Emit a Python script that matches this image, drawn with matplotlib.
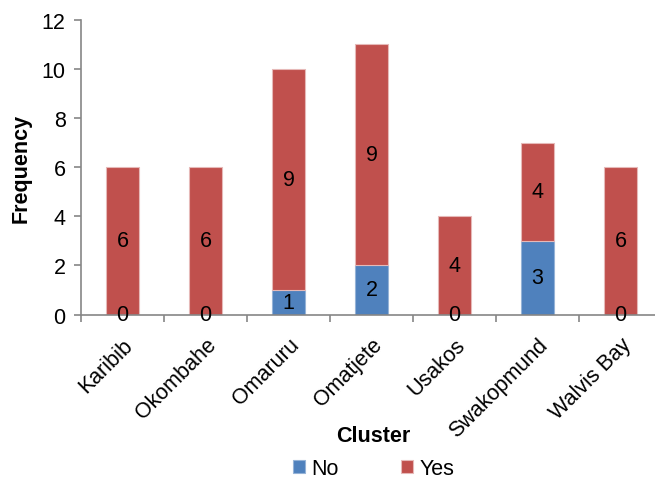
import matplotlib.pyplot as plt
import numpy as np

clusters = ["Karibib", "Okombahe", "Omaruru", "Omatjete", "Usakos", "Swakopmund", "Walvis Bay"]
no_counts = [0, 0, 1, 2, 0, 3, 0]
yes_counts = [6, 6, 9, 9, 4, 4, 6]

plt.rcParams['font.family'] = ['Liberation Sans', 'DejaVu Sans']
fs = 15.5

fig = plt.figure(figsize=(6.55, 4.85), dpi=100)
ax = fig.add_axes([81/655, 1 - 315.5/485, 581/655, 294.8/485])

x = np.arange(len(clusters))
no = np.array(no_counts)
yes = np.array(yes_counts)

b1 = ax.bar(x, no, width=0.4, color="#4F81BD", edgecolor="#95B3D7", linewidth=0.8, label="No")
b2 = ax.bar(x, yes, width=0.4, bottom=no, color="#C0504D", edgecolor="#E6B9B8", linewidth=0.8, label="Yes")

# value labels in the middle of each segment
for i in range(len(clusters)):
    ax.text(x[i], no[i] / 2, str(no[i]), ha="center", va="center", fontsize=fs)
    ax.text(x[i], no[i] + yes[i] / 2, str(yes[i]), ha="center", va="center", fontsize=fs)

ax.set_xlim(-0.5, 6.5)
ax.set_ylim(0, 12)
ax.set_yticks(range(0, 13, 2))
ax.tick_params(axis="y", labelsize=fs, color="#868686", length=5, width=1.2, pad=6)

ax.set_xticks(x)
ax.set_xticklabels(clusters, rotation=45, ha="right", rotation_mode="anchor", fontsize=fs)
ax.tick_params(axis="x", which="major", length=0, pad=14)
ax.set_xticks(np.arange(-0.5, 7, 1), minor=True)
ax.tick_params(axis="x", which="minor", length=5, width=1.2, color="#868686")

for s in ["top", "right"]:
    ax.spines[s].set_visible(False)
for s in ["left", "bottom"]:
    ax.spines[s].set_color("#868686")
    ax.spines[s].set_linewidth(1.2)

ax.set_ylabel("Frequency", fontsize=fs, fontweight="bold", labelpad=7)
fig.text(373/655, 1 - 437/485, "Cluster", ha="center", va="center", fontsize=fs, fontweight="bold")

fig.legend(handles=[b1, b2], loc="center", bbox_to_anchor=(0.57, 1 - 470/485), ncol=2,
           frameon=False, fontsize=fs, handlelength=0.55, handleheight=0.55,
           handletextpad=0.3, columnspacing=2.9)

fig.savefig("out.png", dpi=100)
